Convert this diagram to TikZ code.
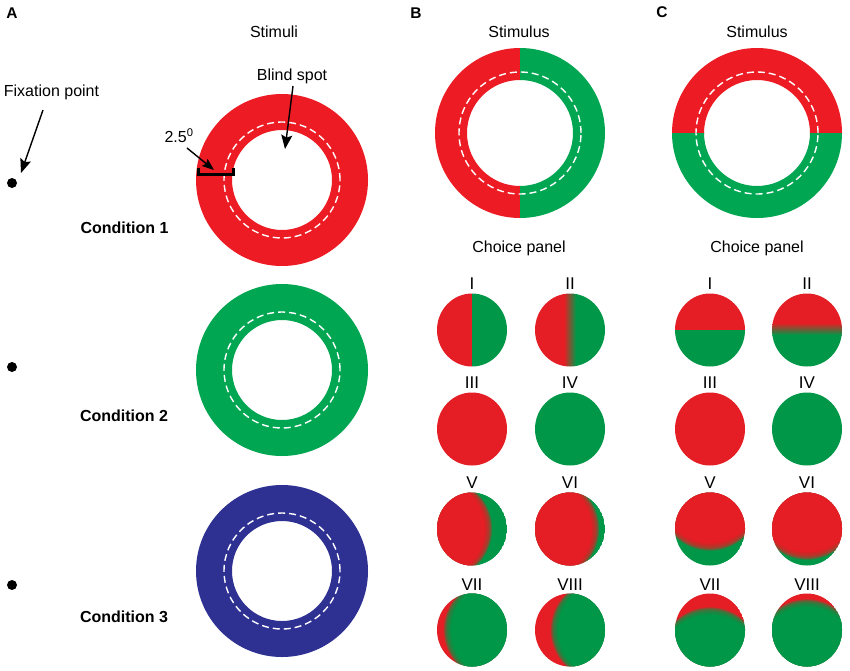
\documentclass[tikz,border=0pt]{standalone}
\usepackage{fontspec}
\setmainfont{Liberation Sans}
\usetikzlibrary{arrows.meta}
\definecolor{ringred}{RGB}{237,28,36}
\definecolor{ringgreen}{RGB}{0,166,81}
\definecolor{ringblue}{RGB}{46,49,146}
\definecolor{dred}{RGB}{228,30,36}
\definecolor{dgreen}{RGB}{0,152,72}
\newcommand{\fuzzdisk}[8]{%
  \begin{scope}
    \clip (#1,#2) ellipse[x radius=35pt,y radius=36.5pt];
    \fill[#3] (#1,#2) ellipse[x radius=35pt,y radius=36.5pt];
    \fill[#4] (#5,#6) circle[radius=50pt];
    \foreach \k in {1,...,8}{\fill[#4, fill opacity=0.28] ({#5+\k*#7},{#6+\k*#8}) circle[radius=50pt];}
  \end{scope}}
\newcommand{\plaindisk}[3]{\fill[#3] (#1,#2) ellipse[x radius=35pt,y radius=36.5pt];}
\begin{document}
\begin{tikzpicture}[x=1pt,y=-1pt,
  lbl/.style={font=\fontsize{16}{19}\selectfont, inner sep=0pt},
  cond/.style={font=\bfseries\fontsize{16}{19}\selectfont, inner sep=0pt},
  roman/.style={font=\fontsize{17}{20}\selectfont, inner sep=0pt},
  panel/.style={font=\bfseries\fontsize{15.5}{18}\selectfont, inner sep=0pt},
  arr/.style={-{Stealth[length=14pt,width=11pt,inset=2.5pt]}, line width=1.4pt},
  dashring/.style={white, line width=1.4pt, dash pattern=on 7pt off 4pt},
  fixdot/.style={circle, fill=black, inner sep=0pt, minimum size=10pt}]
\useasboundingbox (0,0) rectangle (850,670);
\fill[white] (0,0) rectangle (850,670);

% ---------- Panel A ----------
\node[panel] (A) at (12,13) {A};
\node[lbl] (stimuli) at (274,32) {Stimuli};
\node[lbl] (fixlbl) at (51.5,92) {Fixation point};
\node[lbl] (blind) at (292,76) {Blind spot};
\node[lbl] (deg) at (179,136) {2.5\textsuperscript{0}};

\node[fixdot] (dot1) at (12,183) {};
\node[fixdot] (dot2) at (12,367) {};
\node[fixdot] (dot3) at (12,585) {};

\node[cond] (c1) at (124.5,228) {Condition 1};
\node[cond] (c2) at (124,416) {Condition 2};
\node[cond] (c3) at (124,617) {Condition 3};

% rings
\fill[ringred, even odd rule] (282,180) circle[radius=86pt] (282,180) circle[radius=50pt];
\draw[dashring] (282,180) circle[radius=58pt];
\fill[ringgreen, even odd rule] (282,370) circle[radius=86pt] (282,370) circle[radius=50pt];
\draw[dashring] (282,370) circle[radius=58pt];
\fill[ringblue, even odd rule] (282,571) circle[radius=86pt] (282,571) circle[radius=50pt];
\draw[dashring] (282,571) circle[radius=58pt];

% 2.5 bar
\draw[line width=3pt] (198.5,167.5) -- (198.5,174.5) -- (233.5,174.5) -- (233.5,167.5);

% arrows
\coordinate (fixs) at (43,110);
\coordinate (fixe) at (21,173);
\draw[arr] (fixs) -- (fixe);
\coordinate (blinds) at (293,86);
\coordinate (blinde) at (285,149);
\draw[arr] (blinds) -- (blinde);
\coordinate (degs) at (187,148);
\coordinate (dege) at (214,170);
\draw[arr, -{Stealth[length=12pt,width=9pt,inset=2pt]}] (degs) -- (dege);

% ---------- Panel B ----------
\node[panel] (B) at (416,13) {B};
\node[lbl] (stimB) at (519,32) {Stimulus};
\begin{scope}
  \clip (420,40) rectangle (520,230);
  \fill[ringred, even odd rule] (520,133) circle[radius=85pt] (520,133) circle[radius=53pt];
\end{scope}
\begin{scope}
  \clip (520,40) rectangle (620,230);
  \fill[ringgreen, even odd rule] (520,133) circle[radius=85pt] (520,133) circle[radius=53pt];
\end{scope}
\draw[dashring] (520,133) circle[radius=61pt];
\node[lbl] (choiceB) at (519,248) {Choice panel};

\node[roman] (bI) at (472,284) {I};
\node[roman] (bII) at (570,284) {II};
\node[roman] (bIII) at (472,383) {III};
\node[roman] (bIV) at (570,383) {IV};
\node[roman] (bV) at (472,483) {V};
\node[roman] (bVI) at (570,483) {VI};
\node[roman] (bVII) at (472,585) {VII};
\node[roman] (bVIII) at (570,585) {VIII};

% B-I
\begin{scope}
  \clip (472,330) ellipse[x radius=35pt,y radius=36.5pt];
  \fill[dred] (430,290) rectangle (472,370);
  \fill[dgreen] (472,290) rectangle (512,370);
\end{scope}
% B-II
\begin{scope}
  \clip (570,330) ellipse[x radius=35pt,y radius=36.5pt];
  \fill[dred] (530,290) rectangle (564,370);
  \shade[left color=dred, right color=dgreen] (564,290) rectangle (576,370);
  \fill[dgreen] (576,290) rectangle (610,370);
\end{scope}
% B-III, B-IV
\plaindisk{472}{429}{dred}
\plaindisk{570}{429}{dgreen}
% B-V .. B-VIII
\fuzzdisk{472}{529}{dgreen}{dred}{435}{529}{0.9}{0}
\fuzzdisk{570}{529}{dgreen}{dred}{542}{529}{0.9}{0}
\fuzzdisk{472}{630}{dred}{dgreen}{501}{630}{-0.9}{0}
\fuzzdisk{570}{630}{dred}{dgreen}{608}{630}{-0.9}{0}

% ---------- Panel C ----------
\node[panel] (C) at (662,12) {C};
\node[lbl] (stimC) at (757,32) {Stimulus};
\begin{scope}
  \clip (660,40) rectangle (860,133);
  \fill[ringred, even odd rule] (757,133) circle[radius=85pt] (757,133) circle[radius=53pt];
\end{scope}
\begin{scope}
  \clip (660,133) rectangle (860,230);
  \fill[ringgreen, even odd rule] (757,133) circle[radius=85pt] (757,133) circle[radius=53pt];
\end{scope}
\draw[dashring] (757,133) circle[radius=61pt];
\node[lbl] (choiceC) at (757,248) {Choice panel};

\node[roman] (cI) at (710,284) {I};
\node[roman] (cII) at (807,284) {II};
\node[roman] (cIII) at (710,383) {III};
\node[roman] (cIV) at (807,383) {IV};
\node[roman] (cV) at (710,483) {V};
\node[roman] (cVI) at (807,483) {VI};
\node[roman] (cVII) at (710,585) {VII};
\node[roman] (cVIII) at (807,585) {VIII};

% C-I
\begin{scope}
  \clip (710,330) ellipse[x radius=35pt,y radius=36.5pt];
  \fill[dred] (670,290) rectangle (750,330);
  \fill[dgreen] (670,330) rectangle (750,370);
\end{scope}
% C-II
\begin{scope}
  \clip (807,330) ellipse[x radius=35pt,y radius=36.5pt];
  \fill[dred] (767,290) rectangle (847,323);
  \shade[top color=dred, bottom color=dgreen] (767,323) rectangle (847,335);
  \fill[dgreen] (767,335) rectangle (847,370);
\end{scope}
\plaindisk{710}{429}{dred}
\plaindisk{807}{429}{dgreen}
\fuzzdisk{710}{529}{dgreen}{dred}{710}{493.5}{0}{0.9}
\fuzzdisk{807}{529}{dgreen}{dred}{807}{502.5}{0}{0.9}
\fuzzdisk{710}{630}{dred}{dgreen}{710}{664.5}{0}{-0.9}
\fuzzdisk{807}{630}{dred}{dgreen}{807}{656.5}{0}{-0.9}
\end{tikzpicture}
\end{document}
